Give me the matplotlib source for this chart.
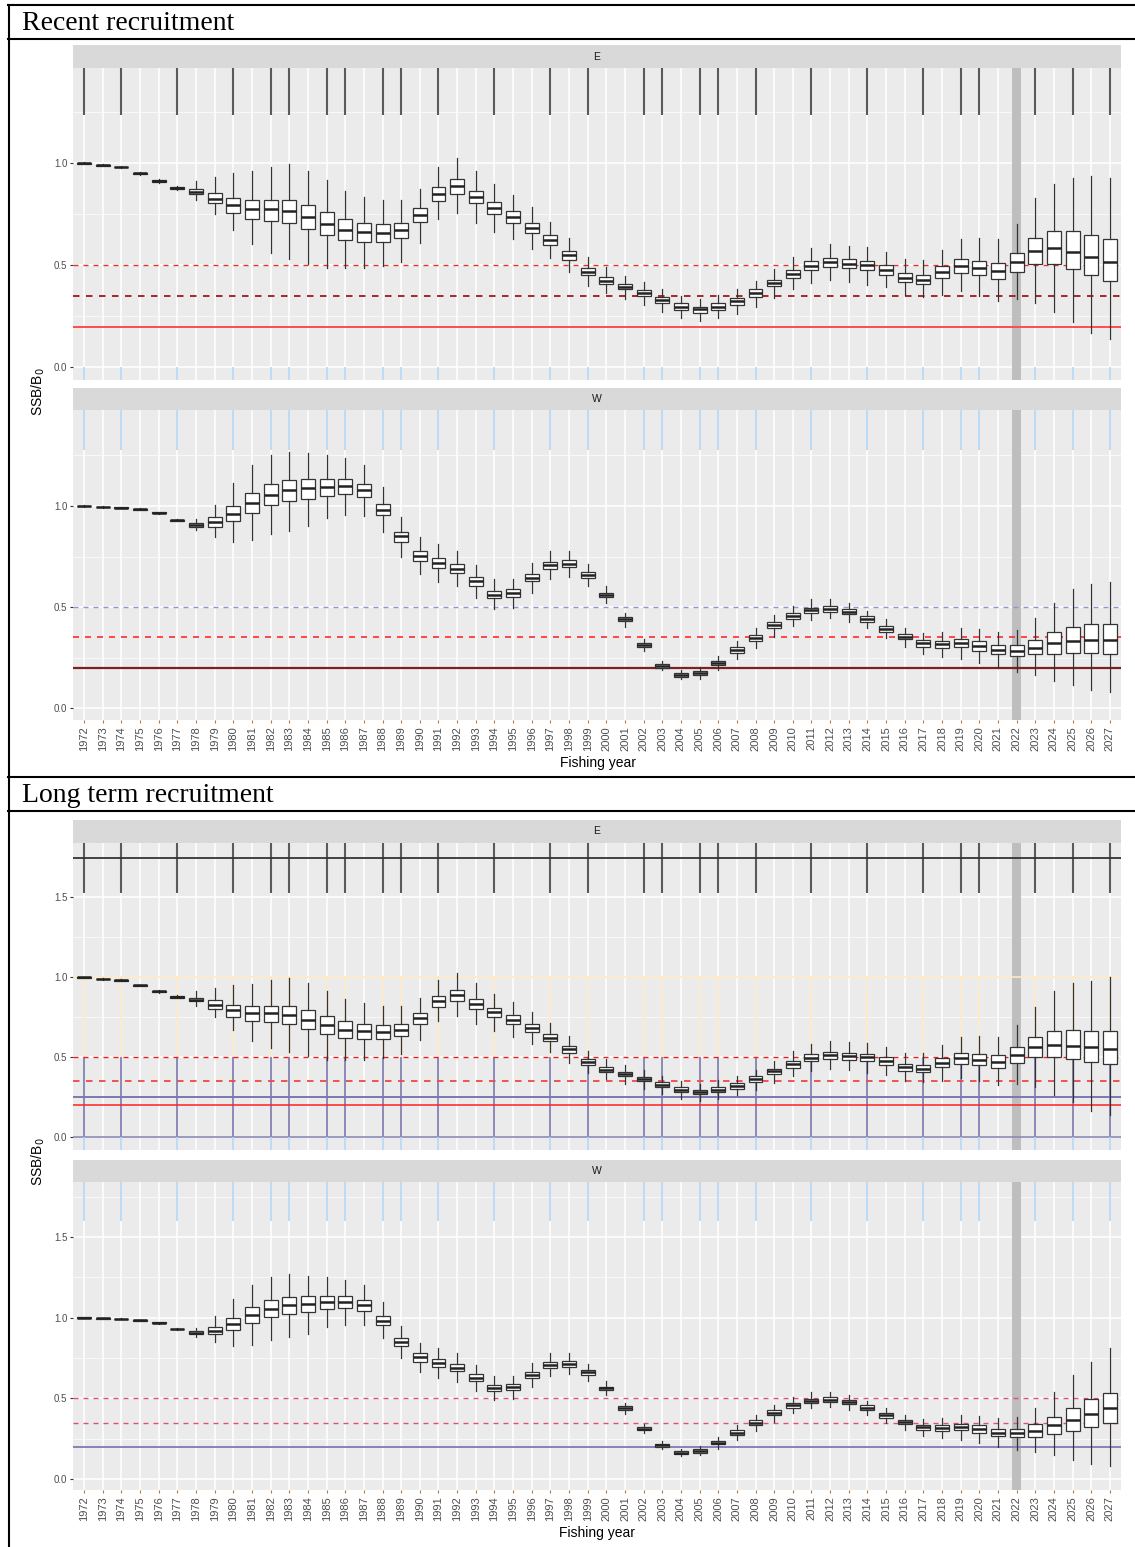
import numpy as np
import matplotlib
matplotlib.use("Agg")
import matplotlib.pyplot as plt
from matplotlib.lines import Line2D

# ---- data ----
years = list(range(1972, 2028))
current_year = 2022

# East stock, 1972-2022 (shared by both recruitment scenarios)
e_lo = [0.995, 0.985, 0.977, 0.945, 0.905, 0.868, 0.82, 0.75, 0.673, 0.605, 0.559, 0.531, 0.507, 0.485, 0.485,
        0.485, 0.497, 0.518, 0.61, 0.725, 0.758, 0.706, 0.665, 0.627, 0.581, 0.534, 0.466, 0.4, 0.363, 0.335,
        0.305, 0.273, 0.24, 0.227, 0.24, 0.263, 0.297, 0.341, 0.382, 0.412, 0.428, 0.418, 0.405, 0.392, 0.355,
        0.343, 0.355, 0.374, 0.35, 0.325, 0.333]
e_q1 = [0.997, 0.988, 0.98, 0.948, 0.909, 0.874, 0.85, 0.804, 0.755, 0.729, 0.719, 0.706, 0.678, 0.647, 0.624,
        0.616, 0.616, 0.632, 0.711, 0.817, 0.851, 0.805, 0.753, 0.707, 0.657, 0.6, 0.528, 0.451, 0.408, 0.382,
        0.351, 0.314, 0.281, 0.268, 0.281, 0.305, 0.345, 0.397, 0.436, 0.476, 0.492, 0.485, 0.476, 0.453, 0.417,
        0.407, 0.44, 0.461, 0.451, 0.435, 0.467]
e_med = [1.0, 0.99, 0.982, 0.95, 0.913, 0.879, 0.861, 0.827, 0.794, 0.776, 0.775, 0.765, 0.735, 0.703, 0.673,
         0.663, 0.657, 0.673, 0.746, 0.851, 0.889, 0.835, 0.781, 0.735, 0.684, 0.624, 0.551, 0.469, 0.424, 0.395,
         0.366, 0.328, 0.296, 0.284, 0.298, 0.323, 0.366, 0.412, 0.458, 0.498, 0.515, 0.506, 0.5, 0.477, 0.44,
         0.43, 0.467, 0.497, 0.485, 0.474, 0.515]
e_q3 = [1.002, 0.992, 0.984, 0.952, 0.917, 0.884, 0.873, 0.856, 0.83, 0.819, 0.822, 0.819, 0.796, 0.76, 0.725,
        0.706, 0.701, 0.706, 0.779, 0.885, 0.923, 0.866, 0.81, 0.765, 0.709, 0.647, 0.572, 0.487, 0.441, 0.408,
        0.379, 0.343, 0.314, 0.297, 0.314, 0.338, 0.382, 0.428, 0.479, 0.52, 0.536, 0.529, 0.521, 0.502, 0.461,
        0.453, 0.497, 0.53, 0.523, 0.513, 0.562]
e_hi = [1.004, 0.995, 0.987, 0.955, 0.921, 0.89, 0.913, 0.935, 0.951, 0.96, 0.984, 0.995, 0.964, 0.918, 0.863,
        0.837, 0.82, 0.82, 0.872, 0.984, 1.026, 0.964, 0.898, 0.843, 0.784, 0.714, 0.633, 0.542, 0.49, 0.45,
        0.418, 0.384, 0.351, 0.336, 0.356, 0.384, 0.423, 0.48, 0.539, 0.583, 0.603, 0.596, 0.588, 0.565, 0.529,
        0.525, 0.575, 0.628, 0.632, 0.628, 0.702]

# West stock, 1972-2022
w_lo = [0.997, 0.992, 0.989, 0.98, 0.962, 0.924, 0.881, 0.848, 0.824, 0.832, 0.862, 0.878, 0.901, 0.939, 0.956,
        0.952, 0.873, 0.749, 0.662, 0.626, 0.604, 0.547, 0.489, 0.497, 0.572, 0.637, 0.651, 0.606, 0.519, 0.403,
        0.285, 0.189, 0.143, 0.146, 0.189, 0.242, 0.296, 0.354, 0.407, 0.437, 0.445, 0.428, 0.396, 0.349, 0.305,
        0.268, 0.255, 0.244, 0.225, 0.201, 0.181]
w_q1 = [0.998, 0.994, 0.991, 0.982, 0.965, 0.927, 0.898, 0.898, 0.926, 0.964, 1.003, 1.023, 1.035, 1.051, 1.061,
        1.043, 0.954, 0.824, 0.728, 0.695, 0.667, 0.606, 0.544, 0.549, 0.628, 0.687, 0.697, 0.646, 0.549, 0.43,
        0.301, 0.201, 0.156, 0.164, 0.214, 0.272, 0.333, 0.396, 0.443, 0.47, 0.475, 0.465, 0.427, 0.379, 0.341,
        0.305, 0.3, 0.301, 0.285, 0.266, 0.258]
w_med = [1.0, 0.995, 0.992, 0.984, 0.967, 0.929, 0.906, 0.919, 0.96, 1.013, 1.053, 1.077, 1.087, 1.096, 1.099,
         1.079, 0.982, 0.85, 0.755, 0.72, 0.69, 0.628, 0.562, 0.568, 0.646, 0.707, 0.715, 0.661, 0.562, 0.442,
         0.311, 0.211, 0.164, 0.174, 0.226, 0.287, 0.348, 0.412, 0.456, 0.484, 0.491, 0.478, 0.442, 0.394, 0.354,
         0.321, 0.316, 0.321, 0.308, 0.288, 0.285]
w_q3 = [1.002, 0.997, 0.994, 0.986, 0.97, 0.932, 0.914, 0.944, 1.0, 1.063, 1.107, 1.128, 1.132, 1.135, 1.135,
        1.109, 1.01, 0.873, 0.779, 0.745, 0.713, 0.651, 0.58, 0.588, 0.664, 0.725, 0.733, 0.675, 0.572, 0.453,
        0.321, 0.219, 0.174, 0.184, 0.235, 0.302, 0.363, 0.427, 0.47, 0.498, 0.506, 0.49, 0.457, 0.409, 0.366,
        0.336, 0.333, 0.343, 0.333, 0.311, 0.311]
w_hi = [1.003, 0.998, 0.995, 0.988, 0.972, 0.935, 0.934, 1.007, 1.115, 1.203, 1.252, 1.269, 1.26, 1.252, 1.236,
        1.203, 1.096, 0.947, 0.845, 0.811, 0.779, 0.707, 0.637, 0.639, 0.717, 0.778, 0.778, 0.713, 0.605, 0.473,
        0.343, 0.234, 0.189, 0.203, 0.26, 0.333, 0.396, 0.46, 0.506, 0.539, 0.542, 0.522, 0.481, 0.442, 0.396,
        0.371, 0.377, 0.397, 0.39, 0.377, 0.387]

# projections 2023-2027: lo, q1, median, q3, hi
e_recent_proj = [[0.317, 0.273, 0.224, 0.167, 0.137], [0.505, 0.507, 0.482, 0.451, 0.423],
                 [0.57, 0.583, 0.567, 0.542, 0.518], [0.632, 0.667, 0.667, 0.647, 0.631],
                 [0.83, 0.9, 0.926, 0.94, 0.93]]
w_recent_proj = [[0.164, 0.136, 0.115, 0.09, 0.078], [0.266, 0.27, 0.272, 0.272, 0.266],
                 [0.3, 0.321, 0.334, 0.338, 0.338], [0.336, 0.377, 0.403, 0.415, 0.415],
                 [0.445, 0.522, 0.589, 0.614, 0.622]]
e_long_proj = [[0.315, 0.264, 0.223, 0.166, 0.141], [0.5, 0.504, 0.491, 0.47, 0.456],
               [0.562, 0.579, 0.573, 0.564, 0.552], [0.627, 0.665, 0.671, 0.667, 0.667],
               [0.816, 0.914, 0.962, 0.979, 1.0]]
w_long_proj = [[0.168, 0.147, 0.118, 0.093, 0.083], [0.263, 0.279, 0.3, 0.325, 0.35],
               [0.3, 0.333, 0.366, 0.403, 0.438], [0.339, 0.387, 0.443, 0.494, 0.535],
               [0.442, 0.541, 0.645, 0.727, 0.81]]

# years where the scanned figure shows stray vertical streaks
streak_years = [1972, 1974, 1977, 1980, 1982, 1983, 1985, 1986, 1988, 1989, 1991, 1994, 1997, 1999,
                2002, 2003, 2005, 2006, 2008, 2011, 2014, 2017, 2019, 2020, 2023, 2025, 2027]

W, H = 1135, 1547
fig = plt.figure(figsize=(W / 100, H / 100), dpi=100)
plt.rcParams["font.family"] = ["Liberation Sans", "DejaVu Sans"]


def rect(x0, y0, x1, y1):
    return [x0 / W, 1 - y1 / H, (x1 - x0) / W, (y1 - y0) / H]


def make_stats(hist, proj):
    cols = [list(h) + list(p) for h, p in zip(hist, proj)]
    return [dict(whislo=a, q1=b, med=c, q3=d, whishi=e, fliers=[]) for a, b, c, d, e in zip(*cols)]


def pos_of(year):
    return years.index(year) + 1


def draw_panel(y0, y1, strip_y0, label, stats, ylim, refs, show_x):
    # strip
    sax = fig.add_axes(rect(73, strip_y0, 1121, y0))
    sax.set_facecolor("#D9D9D9")
    sax.set_xticks([])
    sax.set_yticks([])
    for s in sax.spines.values():
        s.set_visible(False)
    sax.text(0.5, 0.5, label, ha="center", va="center", fontsize=7.5, color="#1A1A1A")

    ax = fig.add_axes(rect(73, y0, 1121, y1))
    ax.set_facecolor("#EBEBEB")
    pos = np.arange(1, len(years) + 1)
    ax.set_yticks([0, 0.5, 1.0, 1.5])
    ax.set_yticks([0.25, 0.75, 1.25, 1.75], minor=True)
    ax.set_yticklabels(["0.0", "0.5", "1.0", "1.5"])
    ax.set_xlim(0.4, len(years) + 0.6)
    ax.set_ylim(*ylim)
    ax.set_axisbelow(True)
    ax.grid(which="major", color="white", linewidth=1.1)
    ax.grid(which="minor", axis="y", color="white", linewidth=0.5)
    for s in ax.spines.values():
        s.set_visible(False)
    ax.tick_params(axis="y", which="major", length=2.5, color="#333333", labelsize=7, labelcolor="#4D4D4D", pad=1.5)
    ax.tick_params(axis="y", which="minor", length=0)

    ax.axvspan(pos_of(current_year) - 0.22, pos_of(current_year) + 0.22, color="#BEBEBE", zorder=1.5, lw=0)

    for yv, col, ls, lw in refs:
        ax.axhline(yv, color=col, linestyle=ls, linewidth=lw, zorder=2)

    ax.bxp(stats, positions=pos, widths=0.75, showcaps=False, showfliers=False, patch_artist=True,
           boxprops=dict(facecolor="white", edgecolor="#333333", linewidth=0.9),
           whiskerprops=dict(color="#333333", linewidth=0.9),
           medianprops=dict(color="#222222", linewidth=1.8), zorder=4, manage_ticks=False)

    ax.set_xticks(pos)
    if show_x:
        ax.set_xticklabels([str(y) for y in years], rotation=90)
        ax.tick_params(axis="x", length=2.5, color="#B5793F", labelsize=8, labelcolor="#4D4D4D", pad=2)
    else:
        ax.set_xticklabels([])
        ax.tick_params(axis="x", length=0)
    ax.set_xlim(0.4, len(years) + 0.6)
    ax.set_ylim(*ylim)
    return ax


dash = (0, (3.6, 3.6))
streak_pos = [pos_of(y) for y in streak_years]

# ---------------- Recent recruitment ----------------
e_hist = [e_lo, e_q1, e_med, e_q3, e_hi]
w_hist = [w_lo, w_q1, w_med, w_q3, w_hi]

ax = draw_panel(68, 380, 45, "E", make_stats(e_hist, e_recent_proj), (-0.062, 1.467),
                [(0.5, "#E8302A", dash, 1.0), (0.35, "#A01818", dash, 1.3), (0.2, "#FF4C4C", "-", 1.4)], False)
ax.vlines(streak_pos, 1.237, 1.467, color="#5A5A5A", linewidth=1.5, zorder=3)
ax.vlines(streak_pos, -0.062, 0, color="#B3D5F5", linewidth=1.2, zorder=3)

ax = draw_panel(410, 720, 388, "W", make_stats(w_hist, w_recent_proj), (-0.058, 1.475),
                [(0.5, "#8D95D6", dash, 1.0), (0.35, "#FF2A2A", dash, 1.2), (0.2, "#7A2222", "-", 1.6)], True)
ax.vlines(streak_pos, 1.277, 1.475, color="#B3D5F5", linewidth=1.2, zorder=3)

fig.text(598 / W, 1 - 763 / H, "Fishing year", ha="center", va="center", fontsize=10)
fig.text(38 / W, 1 - 392 / H, r"SSB/B$_0$", ha="center", va="center", rotation=90, fontsize=10)

# ---------------- Long term recruitment ----------------
ax = draw_panel(843, 1150, 820, "E", make_stats(e_hist, e_long_proj), (-0.079, 1.84),
                [(0.5, "#E82020", dash, 1.0), (0.35, "#F04848", dash, 1.3),
                 (0.25, "#7B78B0", "-", 1.4), (0.2, "#FF2020", "-", 1.1)], False)
ax.vlines(streak_pos, 1.527, 1.84, color="#5A5A5A", linewidth=1.5, zorder=3)
ax.axhline(1.745, color="#333333", linewidth=1.3, zorder=3)
ax.vlines(streak_pos, 0.5, 1.0, color="#FCE7C2", linewidth=1.2, zorder=1.6)
ax.axhline(1.0, color="#FCE7C2", linewidth=1.2, zorder=1.6)
ax.vlines(streak_pos, 0, 0.5, color="#8C88B8", linewidth=1.4, zorder=1.6)
ax.axhline(0.0, color="#8C88B8", linewidth=1.2, zorder=1.6)
ax.vlines(streak_pos, -0.079, 0, color="#B3D5F5", linewidth=1.2, zorder=3)

ax = draw_panel(1182, 1490, 1160, "W", make_stats(w_hist, w_long_proj), (-0.068, 1.84),
                [(0.5, "#E05070", dash, 1.0), (0.35, "#E05070", dash, 1.0), (0.2, "#8F7FB8", "-", 1.4)], True)
ax.vlines(streak_pos, 1.6, 1.84, color="#B3D5F5", linewidth=1.2, zorder=3)

fig.text(597 / W, 1 - 1533 / H, "Fishing year", ha="center", va="center", fontsize=10)
fig.text(38 / W, 1 - 1162 / H, r"SSB/B$_0$", ha="center", va="center", rotation=90, fontsize=10)

# ---------------- table frame and section titles ----------------
for yy in [5, 39, 777, 811]:
    fig.add_artist(Line2D([8 / W, 1135 / W], [1 - yy / H, 1 - yy / H], color="black", linewidth=1.5))
fig.add_artist(Line2D([9 / W, 9 / W], [1 - 5 / H, 0], color="black", linewidth=1.5))

fig.text(22 / W, 1 - 23 / H, "Recent recruitment", fontsize=20, family="Liberation Serif", va="center")
fig.text(22 / W, 1 - 796 / H, "Long term recruitment", fontsize=20, family="Liberation Serif", va="center")

fig.savefig("out.png", dpi=100)
